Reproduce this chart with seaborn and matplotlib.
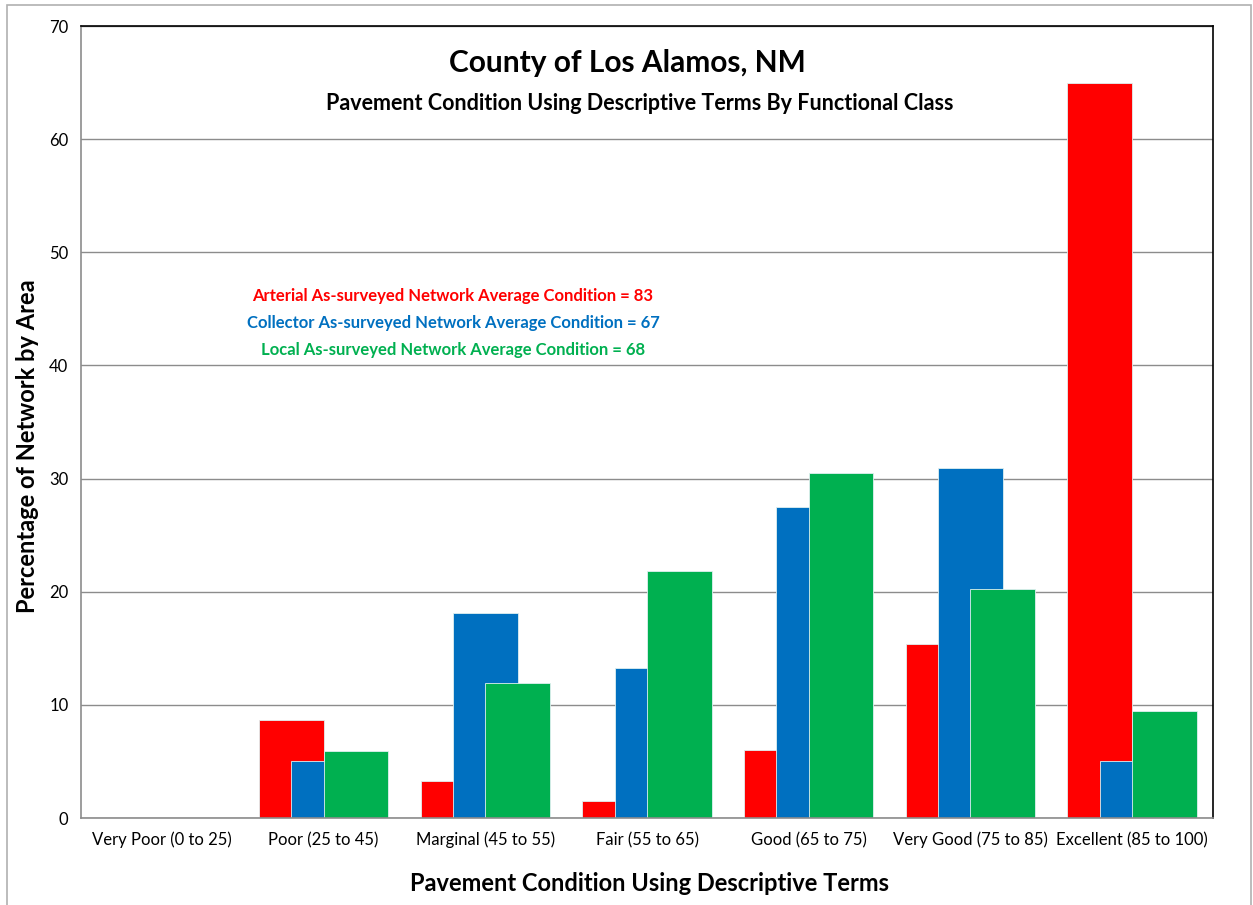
import numpy as np
import pandas as pd
import seaborn as sns
import matplotlib.pyplot as plt
from matplotlib.patches import Rectangle

# chart values
categories = ['Very Poor (0 to 25)', 'Poor (25 to 45)', 'Marginal (45 to 55)',
              'Fair (55 to 65)', 'Good (65 to 75)', 'Very Good (75 to 85)',
              'Excellent (85 to 100)']
arterial = [0, 8.7, 3.3, 1.5, 6.0, 15.4, 65.0]
collector = [0, 5.0, 18.1, 13.3, 27.5, 30.9, 5.0]
local = [0, 5.9, 11.9, 21.8, 30.5, 20.2, 9.5]
classes = ['Arterial', 'Collector', 'Local']
averages = [83, 67, 68]
colors = ['#FF0000', '#0070C0', '#00B050']

df = pd.DataFrame({
    'condition': categories * 3,
    'percent': arterial + collector + local,
    'class': [c for c in classes for _ in categories],
})

sns.set_style('white')
plt.rcParams['font.family'] = ['Lato', 'DejaVu Sans']
plt.rcParams['text.color'] = 'black'
plt.rcParams['xtick.color'] = 'black'
plt.rcParams['ytick.color'] = 'black'

W, H = 1253, 905
fig = plt.figure(figsize=(W / 100, H / 100), dpi=100)
ax = fig.add_axes([81 / W, 1 - 818 / H, (1213 - 81) / W, (818 - 26) / H])

sns.barplot(data=df, x='condition', y='percent', hue='class', palette=colors,
            width=0.6, saturation=1, ax=ax, legend=False,
            edgecolor='#dff0f0', linewidth=0.6)

# Excel-style overlapping bars: each bar is twice as wide as its dodge slot
for p in ax.patches:
    c = p.get_x() + p.get_width() / 2
    p.set_width(0.4)
    p.set_x(c - 0.2)

ax.set_xlim(-0.5, len(categories) - 0.5)
ax.set_ylim(0, 70)
ax.set_yticks(np.arange(0, 71, 10))
ax.yaxis.grid(True, color='#8c8c8c', linewidth=1)
ax.set_axisbelow(True)
ax.set_xlabel('')
ax.set_ylabel('')

for s in ['left', 'bottom']:
    ax.spines[s].set_color('#8c8c8c')
    ax.spines[s].set_linewidth(1.2)
for s in ['top', 'right']:
    ax.spines[s].set_color('black')
    ax.spines[s].set_linewidth(1.2)

ax.tick_params(axis='x', which='major', length=0, labelsize=12, pad=10,
               labelcolor='black')
ax.set_xticks(np.arange(-0.5, len(categories)), minor=True)
ax.tick_params(axis='x', which='minor', length=5, color='#8c8c8c', width=1)
ax.tick_params(axis='y', length=5, color='#8c8c8c', width=1, labelsize=12, pad=4,
               labelcolor='black')

fig.text(627 / W, 1 - 63 / H, 'County of Los Alamos, NM', ha='center', va='center',
         fontsize=21.5, fontweight='bold')
fig.text(640 / W, 1 - 103 / H, 'Pavement Condition Using Descriptive Terms By Functional Class',
         ha='center', va='center', fontsize=15.5, fontweight='bold')

for i, (cls, avg) in enumerate(zip(classes, averages)):
    fig.text(453 / W, 1 - (296 + 27 * i) / H,
             f'{cls} As-surveyed Network Average Condition = {avg}',
             ha='center', va='center', fontsize=12, fontweight='bold', color=colors[i])

fig.text(28 / W, 1 - 446 / H, 'Percentage of Network by Area', rotation=90,
         ha='center', va='center', fontsize=17, fontweight='bold')
fig.text(650 / W, 1 - 883 / H, 'Pavement Condition Using Descriptive Terms',
         ha='center', va='center', fontsize=17, fontweight='bold')

# outer chart frame
fig.add_artist(Rectangle((7 / W, -0.1), (1251 - 7) / W, 1.1 - 5 / H,
                         transform=fig.transFigure, fill=False,
                         edgecolor='#b0b0b0', linewidth=1.2))

fig.savefig('out.png', dpi=100)
